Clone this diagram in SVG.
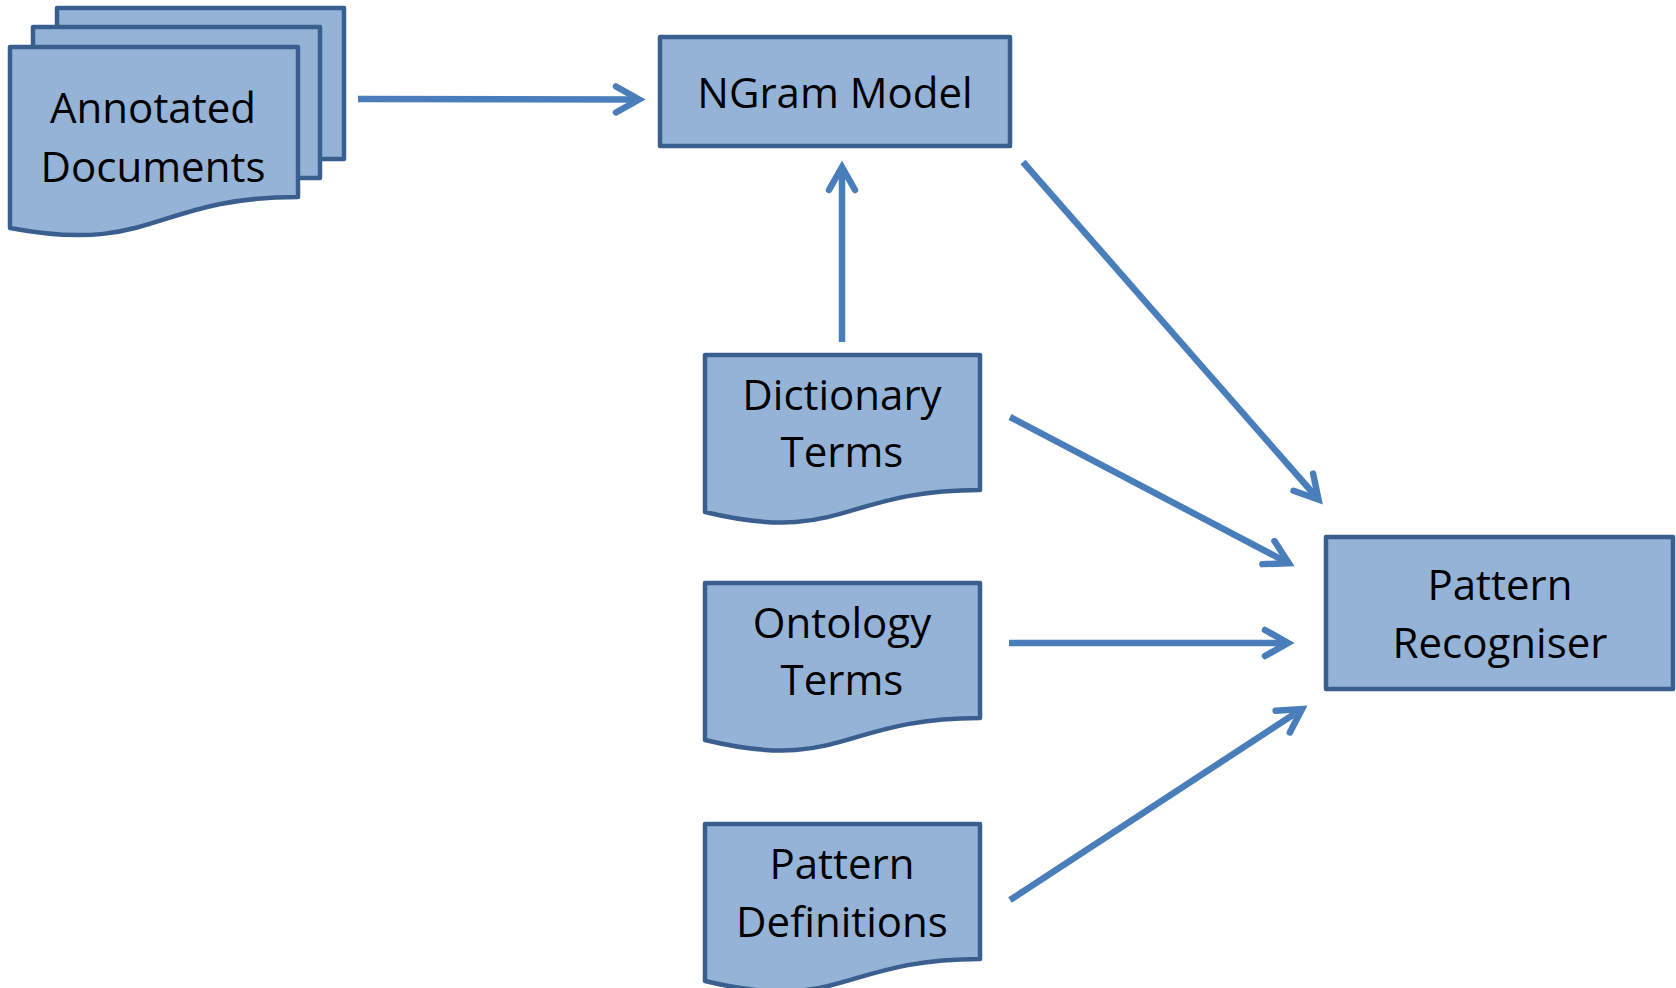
<svg xmlns="http://www.w3.org/2000/svg" width="1676" height="988" viewBox="0 0 1676 988">
<style>
.box{fill:#95B3D7;stroke:#3A5F8E;stroke-width:4.5;stroke-linejoin:round}
.lbl{font-family:"Open Sans","Liberation Sans",sans-serif;font-size:42px;fill:#000;text-anchor:middle}
.arr{stroke:#4A7EBB;stroke-width:6.5;fill:none;marker-end:url(#head)}
</style>
<defs>
<marker id="head" markerUnits="userSpaceOnUse" viewBox="-40 -25 50 50" markerWidth="50" markerHeight="50" refX="0" refY="0" orient="auto" overflow="visible">
<path d="M-23,-13 L0,0 L-23,13" fill="none" stroke="#4A7EBB" stroke-width="6.5" stroke-linecap="round" stroke-linejoin="miter"/>
</marker>
</defs>
<rect width="1676" height="988" fill="#fff"/>
<g id="annotated-documents">
<rect class="box" x="57" y="8" width="287" height="151"/>
<rect class="box" x="33" y="27" width="287" height="151"/>
<path class="box" d="M10,47 H298 V197 C154,197 154,255 10,228 Z"/>
<text class="lbl" x="153" y="123">Annotated</text>
<text class="lbl" x="153" y="182">Documents</text>
</g>
<g id="ngram-model">
<rect class="box" x="660" y="37" width="350" height="109"/>
<text class="lbl" x="835" y="108">NGram Model</text>
</g>
<g id="dictionary-terms">
<path class="box" d="M705,355 H980 V490 C842,490 842,545 705,512 Z"/>
<text class="lbl" x="842" y="410">Dictionary</text>
<text class="lbl" x="842" y="467">Terms</text>
</g>
<g id="ontology-terms">
<path class="box" d="M705,583 H980 V718 C842,718 842,773 705,740 Z"/>
<text class="lbl" x="842" y="638">Ontology</text>
<text class="lbl" x="842" y="695">Terms</text>
</g>
<g id="pattern-definitions">
<path class="box" d="M705,824 H980 V959 C842,959 842,1014 705,981 Z"/>
<text class="lbl" x="842" y="879">Pattern</text>
<text class="lbl" x="842" y="937">Definitions</text>
</g>
<g id="pattern-recogniser">
<rect class="box" x="1326" y="537" width="347" height="152"/>
<text class="lbl" x="1500" y="600">Pattern</text>
<text class="lbl" x="1500" y="658">Recogniser</text>
</g>
<g id="connectors">
<line class="arr" x1="358" y1="99" x2="639" y2="99.5"/>
<line class="arr" x1="842" y1="342" x2="842" y2="167"/>
<line class="arr" x1="1023" y1="162" x2="1318.5" y2="499.5"/>
<line class="arr" x1="1010" y1="417" x2="1288.8" y2="563.3"/>
<line class="arr" x1="1009" y1="643" x2="1288" y2="643"/>
<line class="arr" x1="1010" y1="900" x2="1302" y2="709"/>
</g>
</svg>
